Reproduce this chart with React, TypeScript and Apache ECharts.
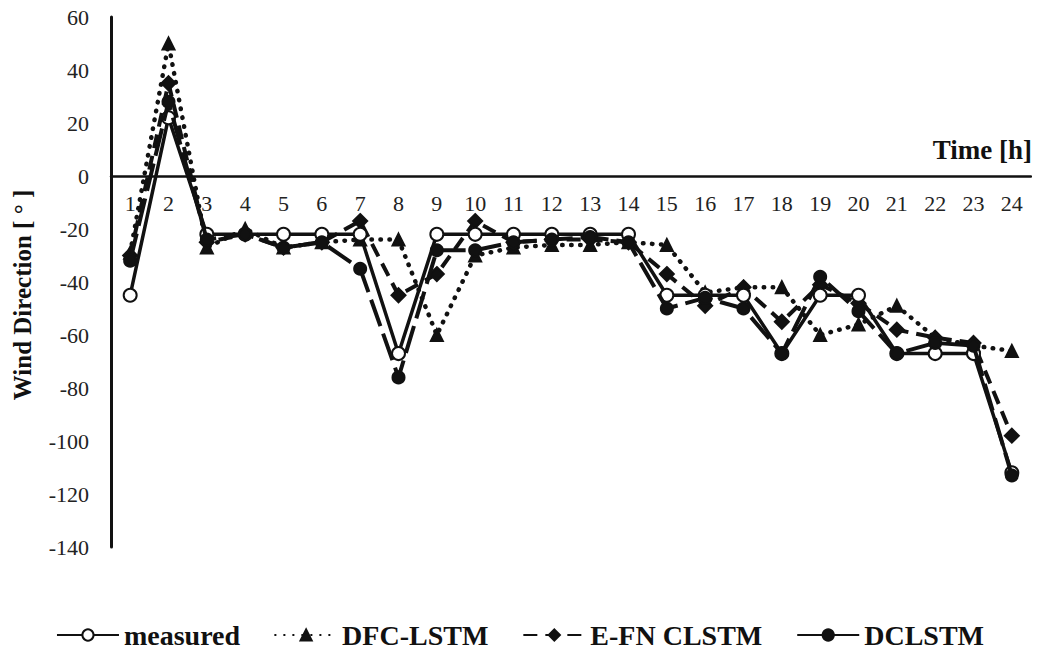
import React, { useEffect, useRef } from "react";
import * as echarts from "echarts";

const hours = ["1","2","3","4","5","6","7","8","9","10","11","12","13","14","15","16","17","18","19","20","21","22","23","24"];
const measured = [-45, 22, -22, -22, -22, -22, -22, -67, -22, -22, -22, -22, -22, -22, -45, -45, -45, -67, -45, -45, -67, -67, -67, -112];
const dfcLstm = [-29, 50, -27, -20, -27, -25, -24, -24, -60, -30, -27, -26, -26, -25, -26, -44, -42, -42, -60, -56, -49, -61, -64, -66];
const efnClstm = [-30, 35, -25, -22, -27, -25, -17, -45, -37, -17, -25, -24, -24, -25, -37, -49, -42, -55, -41, -48, -58, -61, -63, -98];
const dclstm = [-32, 28, -24, -22, -27, -25, -35, -76, -28, -28, -25, -24, -23, -25, -50, -46, -50, -67, -38, -51, -67, -63, -64, -113];
const yTicks = { min: -140, max: 60, interval: 20 };

const FONT = "Liberation Serif";

export default function App() {
  const ref = useRef<HTMLDivElement>(null);
  useEffect(() => {
    if (!ref.current) return;
    const chart = echarts.init(ref.current, null, { renderer: "svg" });
    const base = {
      type: "line",
      z: 2,
      symbolSize: 12,
      itemStyle: { color: "#111", borderColor: "#111", borderWidth: 2 },
    };
    chart.setOption({
      animation: false,
      backgroundColor: "#fff",
      textStyle: { fontFamily: FONT },
      grid: { left: 111, right: 9, top: 17, bottom: 108 },
      legend: {
        top: 616,
        left: "center",
        itemWidth: 62,
        itemHeight: 14,
        itemGap: 34,
        textStyle: { fontFamily: FONT, fontWeight: "bold", fontSize: 28, color: "#111" },
        data: ["measured", "DFC-LSTM", "E-FN CLSTM", "DCLSTM"],
      },
      graphic: [
        {
          type: "text",
          right: 8,
          top: 136,
          style: { text: "Time [h]", fontFamily: FONT, fontWeight: "bold", fontSize: 27, fill: "#111" },
        },
        {
          type: "text",
          x: 22,
          y: 295,
          rotation: Math.PI / 2,
          style: {
            text: "Wind Direction [ ° ]",
            fontFamily: FONT,
            fontWeight: "bold",
            fontSize: 25,
            fill: "#111",
            align: "center",
            verticalAlign: "middle",
          },
        },
      ],
      xAxis: {
        type: "category",
        data: hours,
        boundaryGap: true,
        offset: -371,
        axisLine: { onZero: false, lineStyle: { color: "#111", width: 2.5 } },
        axisTick: { show: false },
        axisLabel: { margin: 16, fontFamily: FONT, fontSize: 22, color: "#222" },
        splitLine: { show: false },
      },
      yAxis: {
        type: "value",
        min: yTicks.min,
        max: yTicks.max,
        interval: yTicks.interval,
        axisLine: { show: true, onZero: false, lineStyle: { color: "#111", width: 3 } },
        axisTick: { show: false },
        axisLabel: { margin: 22, fontFamily: FONT, fontSize: 22, color: "#222" },
        splitLine: { show: false },
      },
      series: [
        {
          ...base,
          name: "measured",
          data: measured,
          symbol: "circle",
          symbolSize: 13,
          z: 3,
          itemStyle: { color: "#fff", borderColor: "#111", borderWidth: 2 },
          lineStyle: { color: "#111", width: 3.5, type: "solid" },
        },
        {
          ...base,
          name: "DFC-LSTM",
          data: dfcLstm,
          symbol: "triangle",
          symbolSize: 12,
          lineStyle: { color: "#111", width: 4.5, type: [0.5, 8.5], cap: "round" },
        },
        {
          ...base,
          name: "E-FN CLSTM",
          data: efnClstm,
          symbol: "diamond",
          symbolSize: 14,
          lineStyle: { color: "#111", width: 4, type: [14, 8] },
        },
        {
          ...base,
          name: "DCLSTM",
          data: dclstm,
          symbol: "circle",
          symbolSize: 12,
          z: 4,
          lineStyle: { color: "#111", width: 4, type: [28, 8] },
        },
      ],
    });
    return () => chart.dispose();
  }, []);
  return <div ref={ref} style={{ width: 1040, height: 655, margin: -8 }} />;
}
